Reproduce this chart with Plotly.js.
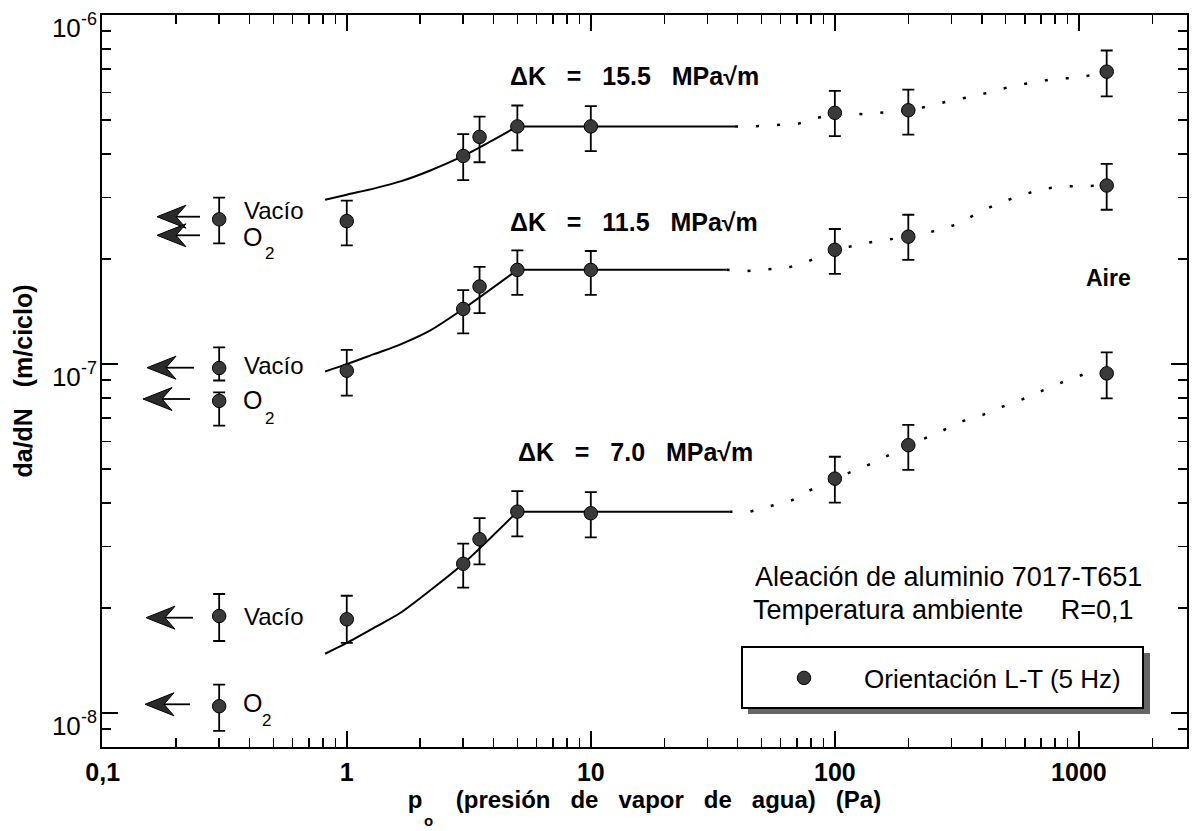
<!DOCTYPE html>
<html>
<head>
<meta charset="utf-8">
<script src="https://cdn.plot.ly/plotly-3.0.1.min.js"></script>
<style>html,body{margin:0;padding:0;background:#fff;}#chart{width:1193px;height:831px;}</style>
</head>
<body>
<div id="chart"></div>
<script>
// ---------------- DATA ----------------
const pressure = [1, 3, 3.5, 5, 10, 100, 200, 1300];          // Pa
const rate155 = [2.57e-7, 3.95e-7, 4.48e-7, 4.80e-7, 4.80e-7, 5.25e-7, 5.34e-7, 6.89e-7];
const hi155   = [2.94e-7, 4.56e-7, 5.12e-7, 5.51e-7, 5.49e-7, 6.07e-7, 6.12e-7, 7.92e-7];
const lo155   = [2.19e-7, 3.37e-7, 3.79e-7, 4.10e-7, 4.08e-7, 4.50e-7, 4.55e-7, 5.85e-7];
const rate115 = [9.58e-8, 1.44e-7, 1.669e-7, 1.863e-7, 1.863e-7, 2.127e-7, 2.32e-7, 3.25e-7];
const hi115   = [1.099e-7, 1.63e-7, 1.90e-7, 2.12e-7, 2.11e-7, 2.44e-7, 2.68e-7, 3.75e-7];
const lo115   = [8.13e-8, 1.225e-7, 1.40e-7, 1.58e-7, 1.58e-7, 1.815e-7, 1.99e-7, 2.77e-7];
const rate70  = [1.858e-8, 2.68e-8, 3.15e-8, 3.78e-8, 3.74e-8, 4.70e-8, 5.86e-8, 9.41e-8];
const hi70    = [2.17e-8, 3.06e-8, 3.62e-8, 4.33e-8, 4.30e-8, 5.43e-8, 6.70e-8, 1.081e-7];
const lo70    = [1.59e-8, 2.29e-8, 2.67e-8, 3.21e-8, 3.19e-8, 4.01e-8, 4.98e-8, 7.98e-8];

// reference environments (plotted at p = 0,3 Pa)
const refP = 0.3;
const vacio    = [2.60e-7, 9.75e-8, 1.898e-8];   // ΔK 15.5, 11.5, 7.0
const vacioHi  = [3.00e-7, 1.117e-7, 2.195e-8];
const vacioLo  = [2.22e-7, 8.98e-8, 1.61e-8];
const oxigeno   = [2.33e-7, 7.85e-8, 1.047e-8];
const oxigenoHi = [null, 8.30e-8, 1.208e-8];
const oxigenoLo = [null, 6.67e-8, 8.9e-9];

// fitted trend curves: rising part (solid, smooth)
const riseX155 = [0.815, 1, 1.3, 1.66, 2.2, 3, 5];
const riseY155 = [2.96e-7, 3.06e-7, 3.19e-7, 3.34e-7, 3.59e-7, 3.95e-7, 4.80e-7];
const riseX115 = [0.815, 1, 1.3, 1.66, 2.2, 3, 5];
const riseY115 = [9.53e-8, 1.0e-7, 1.07e-7, 1.14e-7, 1.25e-7, 1.44e-7, 1.863e-7];
const riseX70  = [0.815, 1, 1.3, 1.66, 2.2, 3, 5];
const riseY70  = [1.48e-8, 1.59e-8, 1.76e-8, 1.94e-8, 2.25e-8, 2.68e-8, 3.78e-8];
// plateau (solid, flat)
const flatX155 = [5, 10, 39];
const flatY155 = [4.80e-7, 4.80e-7, 4.80e-7];
const flatX115 = [5, 10, 36];
const flatY115 = [1.863e-7, 1.863e-7, 1.863e-7];
const flatX70  = [5, 10, 37];
const flatY70  = [3.78e-8, 3.78e-8, 3.78e-8];
// trend curves (dotted part)
const dotX155 = [39, 46, 71, 87, 100, 132, 159, 200, 242, 290, 356, 436, 535, 656, 805, 988, 1300];
const dotY155 = [4.80e-7, 4.80e-7, 4.89e-7, 5.11e-7, 5.25e-7, 5.20e-7, 5.27e-7, 5.34e-7, 5.48e-7, 5.66e-7, 5.83e-7, 6.02e-7, 6.27e-7, 6.42e-7, 6.58e-7, 6.61e-7, 6.89e-7];
const dotX115 = [36, 42.5, 64, 77.6, 100, 142, 200, 262, 318, 385, 469, 575, 711, 873, 1300];
const dotY115 = [1.863e-7, 1.846e-7, 1.888e-7, 1.97e-7, 2.127e-7, 2.24e-7, 2.32e-7, 2.415e-7, 2.52e-7, 2.71e-7, 2.89e-7, 3.04e-7, 3.18e-7, 3.23e-7, 3.25e-7];
const dotX70  = [37, 45, 67, 82, 100, 147, 200, 270, 331, 403, 484, 589, 718, 873, 1072, 1300];
const dotY70  = [3.78e-8, 3.78e-8, 4.08e-8, 4.41e-8, 4.70e-8, 5.25e-8, 5.86e-8, 6.40e-8, 6.85e-8, 7.15e-8, 7.55e-8, 7.94e-8, 8.43e-8, 8.93e-8, 9.41e-8, 9.41e-8];

const xTickVals = [0.1, 1, 10, 100, 1000];
const xTickText = ['0,1', '1', '10', '100', '1000'];
const yTickVals = [1e-8, 1e-7, 1e-6];
const yTickBase = ['10', '10', '10'];
const yTickExp  = ['-8', '-7', '-6'];
const NB = '\u00a0';
const gap = NB + NB + ' ';
const seriesLabels = ['\u0394K' + gap + '=' + gap + '15.5' + gap + 'MPa\u221am',
                      '\u0394K' + gap + '=' + gap + '11.5' + gap + 'MPa\u221am',
                      '\u0394K' + gap + '=' + gap + '7.0' + gap + 'MPa\u221am'];
const legendName = 'Orientaci\u00f3n L-T (5 Hz)';
const vacLabel = 'Vac\u00edo';
const xTitleMain = 'p' + NB + NB + NB + NB + ' (presi\u00f3n' + gap + 'de' + gap + 'vapor' + gap + 'de' + gap + 'agua)' + gap + '(Pa)';
const xTitleSub = 'o';
const yTitle = NB + NB + NB + NB + 'da/dN' + gap + '(m/ciclo)';

// ---------------- LAYOUT GEOMETRY ----------------
const W = 1193, H = 831;
const M = {l: 102, r: 6, t: 15, b: 84};
const XR = [-1.003, 3.443];
const YR = [Math.log10(8e-9), -5.9995];
const PL = M.l, PR = W - M.r, PT = M.t, PB = H - M.b;
const pxp = px => (px - PL) / (PR - PL);
const pyp = py => (PB - py) / (PB - PT);
const tickPy = v => PT + (YR[1] - Math.log10(v)) / (YR[1] - YR[0]) * (PB - PT);

const FONT = 'Liberation Sans, Arial, Helvetica, sans-serif';

// minor tick positions (2..9 per decade)
const xMinor = [];
[0.1, 1, 10, 100, 1000].forEach(d => { for (let k = 2; k <= 9; k++) if (d * k < 2700) xMinor.push(d * k); });
const yMinor = [];
[1e-9, 1e-8, 1e-7].forEach(d => { for (let k = 2; k <= 9; k++) { const v = d * k; if (v > 8.1e-9 && v < 1e-6) yMinor.push(v); } });

function errs(val, hi, lo) {
  return {
    type: 'data', symmetric: false,
    array: val.map((v, i) => hi[i] == null ? 0 : hi[i] - v),
    arrayminus: val.map((v, i) => lo[i] == null ? 0 : v - lo[i]),
    color: '#000', thickness: 1.8, width: 6
  };
}

const smooth = {color: '#000', width: 2, shape: 'spline', smoothing: 0.8};
const solid = {color: '#000', width: 2};
const dotted = {color: '#000', width: 2.5, dash: '3px,18px'};
const mk = {size: 13.5, color: '#3a3a3a', line: {color: '#000', width: 1}};
const lineTrace = (x, y, line) => ({x: x, y: y, mode: 'lines', line: line, showlegend: false, hoverinfo: 'skip'});

const traces = [
  lineTrace(riseX155, riseY155, smooth), lineTrace(riseX115, riseY115, smooth), lineTrace(riseX70, riseY70, smooth),
  lineTrace(flatX155, flatY155, solid), lineTrace(flatX115, flatY115, solid), lineTrace(flatX70, flatY70, solid),
  lineTrace(dotX155, dotY155, dotted), lineTrace(dotX115, dotY115, dotted), lineTrace(dotX70, dotY70, dotted),
  {x: pressure, y: rate155, mode: 'markers', marker: mk, error_y: errs(rate155, hi155, lo155), name: legendName, legendgroup: 'lt', showlegend: true},
  {x: pressure, y: rate115, mode: 'markers', marker: mk, error_y: errs(rate115, hi115, lo115), name: legendName, legendgroup: 'lt', showlegend: false},
  {x: pressure, y: rate70,  mode: 'markers', marker: mk, error_y: errs(rate70, hi70, lo70), name: legendName, legendgroup: 'lt', showlegend: false},
  {x: vacio.map(() => refP), y: vacio, mode: 'markers', marker: mk, error_y: errs(vacio, vacioHi, vacioLo), name: vacLabel, showlegend: false},
  {x: [refP, refP], y: oxigeno.slice(1), mode: 'markers', marker: mk, error_y: errs(oxigeno.slice(1), oxigenoHi.slice(1), oxigenoLo.slice(1)), name: 'O2', showlegend: false}
];

// text placed by pixel position (converted to paper fractions)
const txt = (px, py, text, opts) => Object.assign({
  x: pxp(px), y: pyp(py), xref: 'paper', yref: 'paper', text: text, showarrow: false,
  xanchor: 'left', yanchor: 'middle', font: {family: FONT, size: 24, color: '#000'}
}, opts || {});
const normFont = (s) => ({family: FONT, size: s, color: '#000'});
const boldFont = (s) => ({family: FONT, size: s, color: '#000', weight: 'bold'});

const annotations = [
  txt(508, 76, seriesLabels[0], {font: boldFont(25)}),
  txt(508, 222, seriesLabels[1], {font: boldFont(25)}),
  txt(516, 452, seriesLabels[2], {font: boldFont(25)}),
  txt(242, 211, vacLabel), txt(242, 365, vacLabel), txt(242, 616, vacLabel),
  txt(241, 237, 'O', {font: normFont(25)}), txt(263, 253, '2', {font: normFont(17)}),
  txt(241, 400, 'O', {font: normFont(25)}), txt(263, 418, '2', {font: normFont(17)}),
  txt(241, 703, 'O', {font: normFont(25)}), txt(260, 720, '2', {font: normFont(17)}),
  txt(1108, 278, 'Aire', {xanchor: 'center', font: boldFont(23)}),
  txt(948, 577, 'Aleaci\u00f3n de aluminio 7017-T651', {xanchor: 'center', font: normFont(27)}),
  txt(751, 610, 'Temperatura ambiente' + NB + NB + NB + NB + ' R=0,1', {font: normFont(27)}),
  // subscript of the x-axis title and exponents of the y tick labels
  txt(423, 820.5, xTitleSub, {font: boldFont(15), borderpad: 0})
];
yTickVals.forEach((v, i) => annotations.push(txt(79, tickPy(v) + 4, yTickExp[i], {font: normFont(18)})));

// arrows (head tip px, tail px, y px) drawn as shapes
const arrowDefs = [[157, 200, 216.7], [157, 200, 235.3], [147, 194, 367.7], [143, 190, 399], [146, 193, 617.7], [145, 190, 704.3]];
const shapes = [];
arrowDefs.forEach(([hx, tx, py]) => {
  shapes.push({type: 'line', xref: 'paper', yref: 'paper', x0: pxp(hx + 18), x1: pxp(tx), y0: pyp(py), y1: pyp(py), line: {color: '#000', width: 1.8}});
  shapes.push({type: 'path', xref: 'paper', yref: 'paper',
    path: 'M' + pxp(hx) + ',' + pyp(py) + ' L' + pxp(hx + 29) + ',' + pyp(py - 11.5) + ' L' + pxp(hx + 19) + ',' + pyp(py) +
          ' L' + pxp(hx + 29) + ',' + pyp(py + 11.5) + ' Z',
    fillcolor: '#2a2a2a', line: {color: '#000', width: 1}});
});
// legend frame with drop shadow
shapes.push({type: 'rect', xref: 'paper', yref: 'paper', x0: pxp(748), x1: pxp(1150), y0: pyp(714), y1: pyp(653), fillcolor: '#666', line: {width: 0}});
shapes.push({type: 'rect', xref: 'paper', yref: 'paper', x0: pxp(742), x1: pxp(1143), y0: pyp(708), y1: pyp(647), fillcolor: '#fff', line: {color: '#000', width: 2}});

const axisCommon = {
  type: 'log', showgrid: false, zeroline: false,
  showline: true, linecolor: '#000', linewidth: 2, mirror: 'allticks',
  ticks: 'inside', ticklen: 16, tickwidth: 2, tickcolor: '#000',
  tickmode: 'array'
};

const layout = {
  width: W, height: H, margin: M, paper_bgcolor: '#fff', plot_bgcolor: '#fff',
  showlegend: true,
  font: {family: FONT, color: '#000'},
  xaxis: Object.assign({}, axisCommon, {
    range: XR, tickvals: xTickVals, ticktext: xTickText,
    tickfont: boldFont(25),
    ticklabelstandoff: 2,
    minor: {tickmode: 'array', tickvals: xMinor, ticks: 'inside', ticklen: 9, tickwidth: 1.5, tickcolor: '#000'},
    title: {text: xTitleMain, font: boldFont(24), standoff: 0}
  }),
  yaxis: Object.assign({}, axisCommon, {
    range: YR, tickvals: yTickVals, ticktext: yTickBase,
    tickfont: normFont(26),
    ticklabelshift: 13, ticklabelstandoff: 14,
    minor: {tickmode: 'array', tickvals: yMinor, ticks: 'inside', ticklen: 9, tickwidth: 1.5, tickcolor: '#000'},
    title: {text: yTitle, font: boldFont(25), standoff: 12}
  }),
  legend: {
    x: pxp(744), xanchor: 'left', y: pyp(678), yanchor: 'middle',
    bgcolor: 'rgba(0,0,0,0)', borderwidth: 0, itemwidth: 110,
    font: normFont(26)
  },
  annotations: annotations,
  shapes: shapes
};

Plotly.newPlot('chart', traces, layout, {staticPlot: true, displayModeBar: false});
</script>
</body>
</html>
